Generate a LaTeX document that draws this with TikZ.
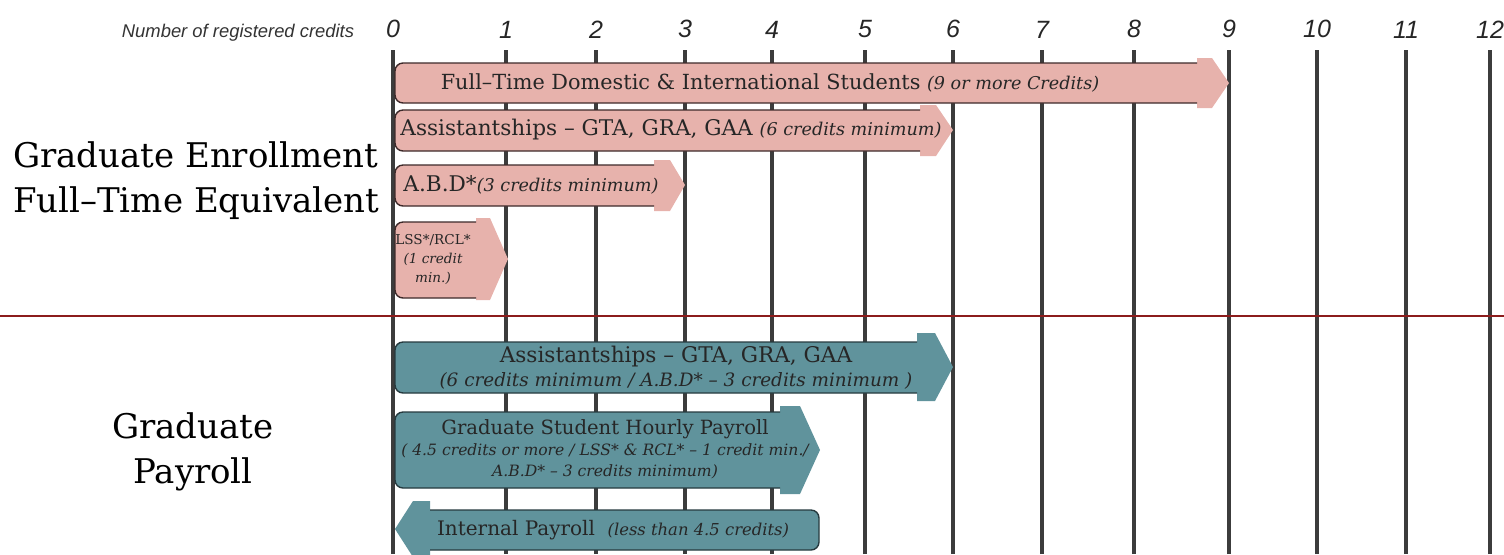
\documentclass[tikz,border=0pt]{standalone}
\usepackage{fontspec}
\setmainfont{DejaVu Serif}
\setsansfont{Liberation Sans}
\definecolor{pinkfill}{RGB}{231,178,172}
\definecolor{pinkline}{RGB}{62,42,42}
\definecolor{tealfill}{RGB}{96,147,156}
\definecolor{tealline}{RGB}{38,58,63}
\definecolor{gridgray}{RGB}{60,60,60}
\definecolor{divred}{RGB}{140,28,28}
\newcommand{\credits}[1]{{\fontsize{8.8}{10}\selectfont\itshape #1}}

\begin{document}
\begin{tikzpicture}[x=0.5pt, y=-0.5pt, font=\fontsize{10.8}{12}\selectfont,
	grid/.style={draw=gridgray, line width=2pt},
	pinkedge/.style={draw=pinkline, line width=0.7pt, rounded corners=4pt},
	tealedge/.style={draw=tealline, line width=0.7pt, rounded corners=4pt},
	boxtext/.style={text=black!85, inner sep=0pt, align=center}]
	\useasboundingbox (0,0) rectangle (1504,554);
	%axis
	\foreach \x/\c in {393/0,506/1,596/2,685/3,772/4,865/5,953/6,1042/7,1134/8,1229/9,1317/10,1406/11,1490/12}
	\draw[grid] (\x,554) -- (\x,50)
	node[anchor=south, inner sep=0pt, yshift=5pt, font=\sffamily\itshape\fontsize{12.5}{14}\selectfont, text=black!85] (n\c) {\c};
	\draw[divred, line width=1.2pt] (0,316) -- (1504,316);
	%labels
	\node[font=\sffamily\itshape\fontsize{9.2}{10}\selectfont, text=black!80] (xlabel) at (238,33) {Number of registered credits};
	\node[align=left, font=\fontsize{17}{22.5}\selectfont, anchor=west] (enroll) at (6,181)
	{Graduate Enrollment\\Full–Time Equivalent};
	\node[align=center, font=\fontsize{17}{22.5}\selectfont] (payroll) at (193,452)
	{Graduate\\Payroll};
	%enrollment arrows
	\fill[pinkfill, rounded corners=4pt] (395,63) rectangle (1205,103);
	\fill[pinkfill] (1197,63) -- (1197,58) -- (1212,58) -- (1229,83) -- (1212,108) -- (1197,108) -- (1197,103) -- cycle;
	\draw[pinkedge] (1197,63) -- (395,63) -- (395,103) -- (1197,103);
	\node[boxtext, font=\fontsize{10.4}{12}\selectfont] (fulltime) at (770,83) {Full–Time Domestic \& International Students \credits{(9 or more Credits)}};

	\fill[pinkfill, rounded corners=4pt] (395,110) rectangle (928,151);
	\fill[pinkfill] (920,110) -- (920,105) -- (936,105) -- (953,130) -- (936,156) -- (920,156) -- (920,151) -- cycle;
	\draw[pinkedge] (920,110) -- (395,110) -- (395,151) -- (920,151);
	\node[boxtext] (asst) at (671,130) {Assistantships – GTA, GRA, GAA \credits{(6 credits minimum)}};

	\fill[pinkfill, rounded corners=4pt] (395,165) rectangle (662,206);
	\fill[pinkfill] (654,165) -- (654,160) -- (670,160) -- (685,185) -- (670,211) -- (654,211) -- (654,206) -- cycle;
	\draw[pinkedge] (654,165) -- (395,165) -- (395,206) -- (654,206);
	\node[boxtext] (abd) at (531,185) {A.B.D*\credits{(3 credits minimum)}};

	\fill[pinkfill, rounded corners=4pt] (395,222) rectangle (484,298);
	\fill[pinkfill] (476,222) -- (476,218) -- (490,218) -- (508,259) -- (490,300) -- (476,300) -- (476,298) -- cycle;
	\draw[pinkedge] (476,222) -- (395,222) -- (395,298) -- (476,298);
	\node[boxtext, font=\fontsize{6.8}{9.5}\selectfont] (lss) at (433,259)
	{LSS*/RCL*\\{\itshape (1 credit}\\{\itshape min.)}};
	%payroll arrows
	\fill[tealfill, rounded corners=4pt] (395,342) rectangle (925,393);
	\fill[tealfill] (917,342) -- (917,333) -- (935,333) -- (953,367) -- (935,401) -- (917,401) -- (917,393) -- cycle;
	\draw[tealedge] (917,342) -- (395,342) -- (395,393) -- (917,393);
	\node[boxtext, font=\fontsize{10.8}{12}\selectfont] (payasst) at (676,368)
	{Assistantships – GTA, GRA, GAA\\{\fontsize{9.2}{10}\selectfont\itshape (6 credits minimum / A.B.D* – 3 credits minimum )}};

	\fill[tealfill, rounded corners=4pt] (395,412) rectangle (788,488);
	\fill[tealfill] (780,412) -- (780,406) -- (800,406) -- (820,450) -- (800,494) -- (780,494) -- (780,488) -- cycle;
	\draw[tealedge] (780,412) -- (395,412) -- (395,488) -- (780,488);
	\node[boxtext, font=\fontsize{9.8}{10.5}\selectfont] (hourly) at (605,449)
	{Graduate Student Hourly Payroll\\{\fontsize{7.8}{9}\selectfont\itshape ( 4.5 credits or more / LSS* \& RCL* – 1 credit min./}\\{\fontsize{7.8}{9}\selectfont\itshape A.B.D* – 3 credits minimum)}};

	\fill[tealfill, rounded corners=4pt] (422,510) rectangle (819,550);
	\fill[tealfill] (430,510) -- (430,501) -- (413,501) -- (395,529) -- (413,557) -- (430,557) -- (430,550) -- cycle;
	\draw[tealedge] (430,510) -- (819,510) -- (819,550) -- (430,550);
	\node[boxtext, font=\fontsize{10}{12}\selectfont] (internal) at (613,530) {Internal Payroll \ {\fontsize{8.2}{9}\selectfont\itshape (less than 4.5 credits)}};
\end{tikzpicture}
\end{document}
